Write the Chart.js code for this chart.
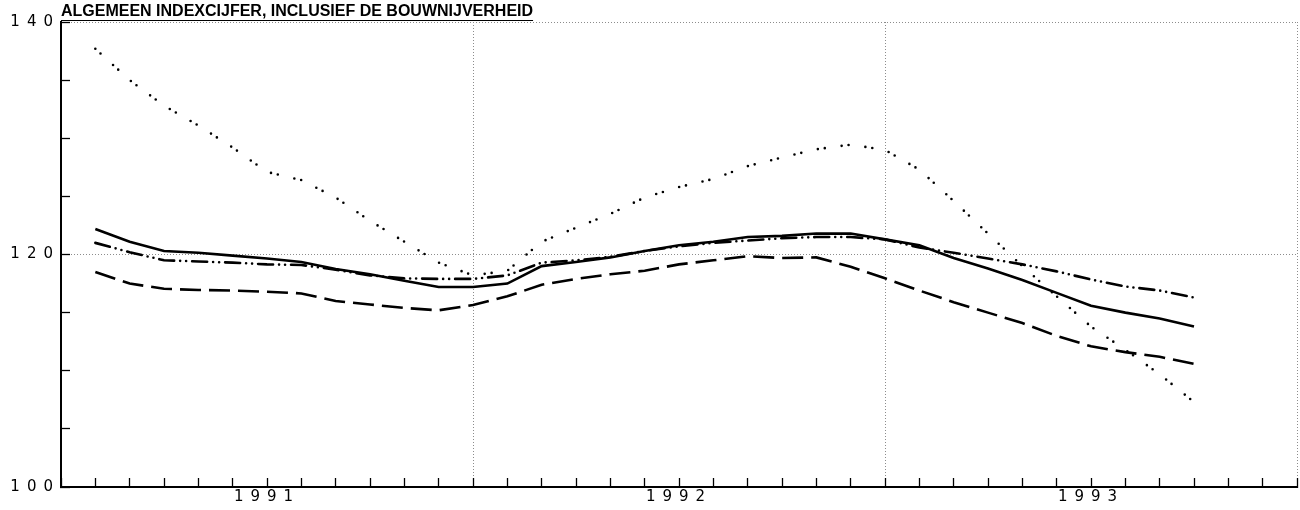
<!DOCTYPE html>
<html>
<head>
<meta charset="utf-8">
<script src="https://cdn.jsdelivr.net/npm/chart.js@4/dist/chart.umd.min.js"></script>
<style>
html, body { margin: 0; padding: 0; background: #fff; }
#wrap { width: 1300px; height: 510px; }
</style>
</head>
<body>
<div id="wrap"><canvas id="grafiek" width="1300" height="510"></canvas></div>
<script>
// gegevens
var titel = 'ALGEMEEN INDEXCIJFER, INCLUSIEF DE BOUWNIJVERHEID';
var jaren = ['1991', '1992', '1993'];
var jaarMidden = [6, 18, 30];
var yLabels = [100, 120, 140];

// maandnummer vanaf begin 1991
var maanden = [1, 2, 3, 4, 5, 6, 7, 8, 9, 10, 11, 12, 13, 14, 15, 16, 17,
               18, 19, 20, 21, 22, 23, 24, 25, 26, 27, 28, 29, 30, 31, 32, 33];

var reeksDoorgetrokken = [122.2, 121.1, 120.3, 120.15, 119.9, 119.65, 119.35, 118.75, 118.3, 117.75,
                          117.2, 117.2, 117.5, 119.0, 119.35, 119.75, 120.3, 120.8, 121.1, 121.5,
                          121.6, 121.8, 121.8, 121.3, 120.8, 119.7, 118.8, 117.8, 116.7, 115.6,
                          115.0, 114.5, 113.8];

var reeksStreepPunt = [121.0, 120.2, 119.5, 119.4, 119.3, 119.15, 119.1, 118.7, 118.2, 117.95,
                       117.9, 117.9, 118.2, 119.3, 119.5, 119.8, 120.3, 120.7, 121.0, 121.2,
                       121.4, 121.5, 121.5, 121.3, 120.6, 120.15, 119.65, 119.15, 118.55, 117.85,
                       117.25, 116.9, 116.3];

var reeksGestreept = [118.5, 117.5, 117.05, 116.95, 116.9, 116.8, 116.65, 116.0, 115.7, 115.4,
                      115.2, 115.65, 116.4, 117.4, 117.9, 118.3, 118.6, 119.15, 119.5, 119.85,
                      119.7, 119.75, 118.95, 117.95, 116.9, 115.9, 115.0, 114.1, 113.0, 112.1,
                      111.6, 111.2, 110.6];

var reeksGestippeld = [137.7, 135.0, 132.8, 131.1, 129.2, 127.1, 126.4, 124.9, 122.9, 121.1,
                       119.3, 118.2, 118.6, 121.1, 122.3, 123.5, 124.9, 125.8, 126.5, 127.6,
                       128.35, 129.05, 129.45, 129.0, 127.3, 124.6, 121.8, 119.0, 116.4, 113.8,
                       111.8, 109.7, 107.3];

var titelFont = 'bold 16px "Liberation Sans"';

function punten(reeks)
{
    var p = [];
    for (var i = 0; i < maanden.length; i++) {
        p.push({x: maanden[i], y: reeks[i]});
    }
    return p;
}

function lijn(naam, reeks, streep, kap)
{
    return {
        label: naam,
        data: punten(reeks),
        borderColor: '#000',
        backgroundColor: '#000',
        borderWidth: 2.6,
        borderDash: streep,
        borderCapStyle: kap,
        pointRadius: 0,
        tension: 0,
        fill: false
    };
}

// letterafstand voor de aslabels, onderstreping van de titel
var opmaak = {
    id: 'opmaak',
    beforeDraw: function(chart) {
        chart.ctx.letterSpacing = '0px';
    },
    afterDatasetsDraw: function(chart) {
        chart.ctx.letterSpacing = '7px';
    },
    afterDraw: function(chart) {
        var ctx = chart.ctx;
        ctx.letterSpacing = '0px';
        var tb = chart.titleBlock;
        ctx.save();
        ctx.font = titelFont;
        var w = ctx.measureText(titel).width;
        ctx.strokeStyle = '#000';
        ctx.lineWidth = 1;
        ctx.beginPath();
        ctx.moveTo(tb.left, 20.5);
        ctx.lineTo(tb.left + w, 20.5);
        ctx.stroke();
        ctx.restore();
    }
};

var ctx = document.getElementById('grafiek').getContext('2d');
var grafiek = new Chart(ctx, {
    type: 'line',
    data: {
        datasets: [
            lijn('doorgetrokken', reeksDoorgetrokken, [], 'butt'),
            lijn('streep-punt', reeksStreepPunt, [15, 6, 0, 6, 0, 6], 'round'),
            lijn('gestreept', reeksGestreept, [21, 8], 'butt'),
            lijn('gestippeld', reeksGestippeld, [0, 7, 0, 17], 'round')
        ]
    },
    options: {
        responsive: false,
        animation: false,
        devicePixelRatio: 1,
        layout: { padding: { top: 0, right: 3, bottom: 0, left: 0 } },
        plugins: {
            legend: { display: false },
            tooltip: { enabled: false },
            title: {
                display: true,
                text: titel,
                align: 'start',
                fullSize: false,
                color: '#000',
                font: { family: 'Liberation Sans', size: 16, weight: 'bold', lineHeight: 1 },
                padding: { top: 4, bottom: 2 }
            }
        },
        scales: {
            x: {
                type: 'linear',
                min: 0,
                max: 36,
                afterFit: function(s) { s.height = 23; s.paddingLeft = 0; s.paddingRight = 0; },
                ticks: {
                    stepSize: 1,
                    autoSkip: false,
                    maxRotation: 0,
                    padding: 10,
                    color: '#000',
                    z: 1,
                    font: { family: 'DejaVu Sans', size: 15 },
                    callback: function(v) {
                        var i = jaarMidden.indexOf(v);
                        return i >= 0 ? jaren[i] : '';
                    }
                },
                grid: {
                    tickLength: -9,
                    tickColor: '#000',
                    tickWidth: 1.3,
                    tickBorderDash: [],
                    lineWidth: 1,
                    color: function(c) {
                        var v = c.tick ? c.tick.value : 0;
                        return (v > 0 && v % 12 === 0) ? '#8c8c8c' : 'rgba(0,0,0,0)';
                    }
                },
                border: { color: '#000', width: 2, dash: [1, 2] }
            },
            y: {
                min: 100,
                max: 140,
                afterFit: function(s) { s.width = 61; },
                ticks: {
                    stepSize: 5,
                    autoSkip: false,
                    padding: 10,
                    color: '#000',
                    z: 1,
                    font: { family: 'DejaVu Sans', size: 15 },
                    callback: function(v) {
                        return yLabels.indexOf(v) >= 0 ? String(v) : '';
                    }
                },
                grid: {
                    tickLength: -9,
                    tickColor: '#000',
                    tickWidth: 1.3,
                    tickBorderDash: [],
                    lineWidth: 1,
                    color: function(c) {
                        var v = c.tick ? c.tick.value : 0;
                        return (v === 120 || v === 140) ? '#8c8c8c' : 'rgba(0,0,0,0)';
                    }
                },
                border: { color: '#000', width: 2, dash: [1, 2] }
            }
        }
    },
    plugins: [opmaak]
});
</script>
</body>
</html>
